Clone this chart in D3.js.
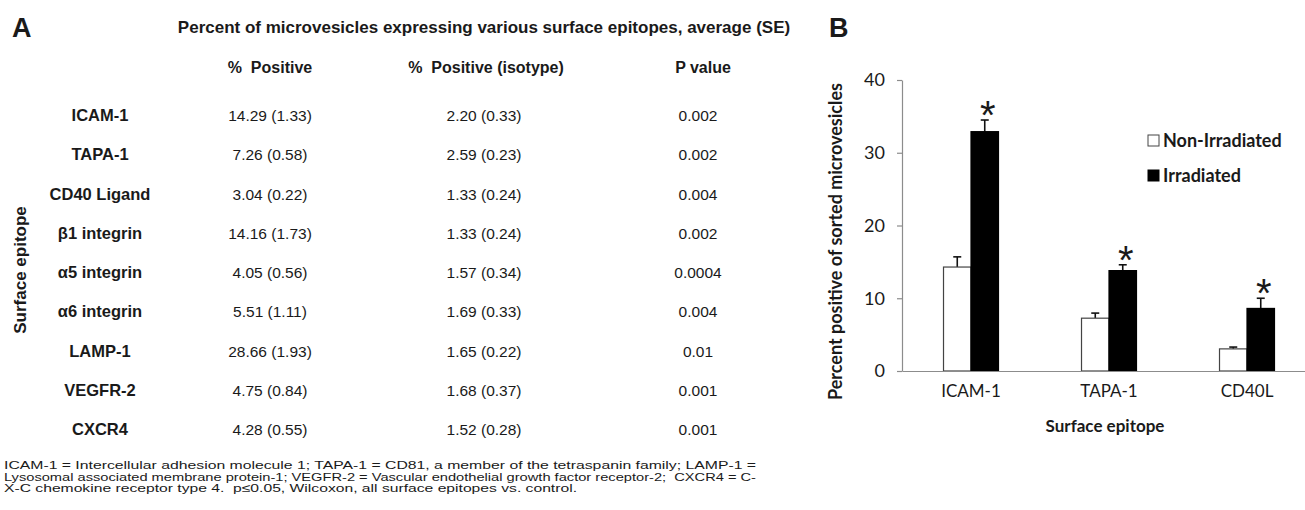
<!DOCTYPE html>
<html>
<head>
<meta charset="utf-8">
<script src="https://cdn.jsdelivr.net/npm/d3@7"></script>
<style>
  html, body { margin: 0; padding: 0; background: #fff; }
  svg { display: block; }
</style>
</head>
<body>
<div id="chart"></div>
<script>
// Panel A - table data
const epitopes = ['ICAM-1', 'TAPA-1', 'CD40 Ligand', 'β1 integrin', 'α5 integrin', 'α6 integrin', 'LAMP-1', 'VEGFR-2', 'CXCR4'];
const posMean = [14.29, 7.26, 3.04, 14.16, 4.05, 5.51, 28.66, 4.75, 4.28];
const posSE = [1.33, 0.58, 0.22, 1.73, 0.56, 1.11, 1.93, 0.84, 0.55];
const isoMean = [2.20, 2.59, 1.33, 1.33, 1.57, 1.69, 1.65, 1.68, 1.52];
const isoSE = [0.33, 0.23, 0.24, 0.24, 0.34, 0.33, 0.22, 0.37, 0.28];
const pValues = ['0.002', '0.002', '0.004', '0.002', '0.0004', '0.004', '0.01', '0.001', '0.001'];
const columnHeaders = ['%  Positive', '%  Positive (isotype)', 'P value'];

const footnote = [
    'ICAM-1 = Intercellular adhesion molecule 1; TAPA-1 = CD81, a member of the tetraspanin family; LAMP-1 =',
    'Lysosomal associated membrane protein-1; VEGFR-2 = Vascular endothelial growth factor receptor-2;  CXCR4 = C-',
    'X-C chemokine receptor type 4.  p\u22640.05, Wilcoxon, all surface epitopes vs. control.'
];
const footWidths = [752, 752, 573];

// Panel B - bar chart data
const groups = ['ICAM-1', 'TAPA-1', 'CD40L'];
const series = ['Non-Irradiated', 'Irradiated'];
const nonIrradiated = [14.29, 7.26, 3.04];
const nonIrradiatedSE = [1.4, 0.7, 0.25];
const irradiated = [32.9, 13.8, 8.6];
const irradiatedSE = [1.6, 0.8, 1.4];
const yTicks = [0, 10, 20, 30, 40];

const W = 1305, H = 510;
const svg = d3.select('#chart').append('svg')
    .attr('width', W)
    .attr('height', H);
svg.append('rect').attr('width', W).attr('height', H).attr('fill', '#fff');

const ink = '#1a1a1a';
const arial = 'Liberation Sans, Arial, sans-serif';
const lato = 'Lato, sans-serif';

// ---------- Panel A ----------
const A = svg.append('g').attr('font-family', arial).attr('fill', ink);

A.append('text').attr('x', 12).attr('y', 37)
    .attr('font-size', 27).attr('font-weight', 'bold').text('A');

A.append('text').attr('x', 484).attr('y', 33)
    .attr('text-anchor', 'middle').attr('font-size', 17).attr('font-weight', 'bold')
    .text('Percent of microvesicles expressing various surface epitopes, average (SE)');

const colX = d3.scalePoint().domain([0, 1, 2]).range([270, 698]);
const headerShift = [0, 2, 5];

A.selectAll('.hdr').data(columnHeaders).enter().append('text')
    .attr('class', 'hdr')
    .attr('x', (d, i) => colX(i) + headerShift[i])
    .attr('y', 73)
    .attr('text-anchor', 'middle')
    .attr('font-size', 16).attr('font-weight', 'bold')
    .style('white-space', 'pre')
    .text(d => d);

const rowY = d3.scalePoint().domain(epitopes).range([115, 429]);

const rows = A.selectAll('.row').data(epitopes).enter().append('g')
    .attr('class', 'row')
    .attr('transform', d => `translate(0,${rowY(d) + 6})`);

rows.append('text').attr('x', 100).attr('text-anchor', 'middle')
    .attr('font-size', 16.5).attr('font-weight', 'bold')
    .text(d => d);

rows.append('text').attr('x', colX(0)).attr('text-anchor', 'middle')
    .attr('font-size', 15.5)
    .text((d, i) => `${posMean[i].toFixed(2)} (${posSE[i].toFixed(2)})`);

rows.append('text').attr('x', colX(1)).attr('text-anchor', 'middle')
    .attr('font-size', 15.5)
    .text((d, i) => `${isoMean[i].toFixed(2)} (${isoSE[i].toFixed(2)})`);

rows.append('text').attr('x', colX(2)).attr('text-anchor', 'middle')
    .attr('font-size', 15.5)
    .text((d, i) => pValues[i]);

// rotated row axis title
A.append('text')
    .attr('transform', `translate(26,${rowY('α5 integrin') - 2}) rotate(-90)`)
    .attr('text-anchor', 'middle')
    .attr('font-size', 17).attr('font-weight', 'bold')
    .text('Surface epitope');

// footnote
A.append('g').attr('font-size', 11.5)
    .selectAll('text').data(footnote).enter().append('text')
    .attr('x', 4)
    .attr('y', (d, i) => 469 + i * 11.5)
    .attr('textLength', (d, i) => footWidths[i])
    .attr('lengthAdjust', 'spacingAndGlyphs')
    .style('white-space', 'pre')
    .text(d => d);

// ---------- Panel B ----------
const B = svg.append('g').attr('font-family', lato).attr('fill', ink);

B.append('text').attr('x', 829).attr('y', 37)
    .attr('font-family', arial)
    .attr('font-size', 27).attr('font-weight', 'bold').text('B');

const y = d3.scaleLinear().domain([0, 40]).range([371, 80]);
const x0 = d3.scaleBand().domain(groups).range([902, 1316]).padding(0);
const x1 = d3.scaleBand().domain(series).range([0, x0.bandwidth()])
    .paddingInner(0).paddingOuter(1.51);

const barData = groups.map((g, i) => [
    { group: g, key: series[0], value: nonIrradiated[i], se: nonIrradiatedSE[i] },
    { group: g, key: series[1], value: irradiated[i], se: irradiatedSE[i] }
]);

const gGroups = B.selectAll('.grp').data(barData).enter().append('g')
    .attr('class', 'grp')
    .attr('transform', d => `translate(${x0(d[0].group)},0)`);

// error bars (upper whisker only)
const err = gGroups.selectAll('.err').data(d => d).enter().append('g')
    .attr('class', 'err')
    .attr('stroke', '#111').attr('stroke-width', 1.6);
err.append('line')
    .attr('x1', d => x1(d.key) + x1.bandwidth() / 2)
    .attr('x2', d => x1(d.key) + x1.bandwidth() / 2)
    .attr('y1', d => y(d.value))
    .attr('y2', d => y(d.value + d.se));
err.append('line')
    .attr('x1', d => x1(d.key) + x1.bandwidth() / 2 - 4)
    .attr('x2', d => x1(d.key) + x1.bandwidth() / 2 + 4)
    .attr('y1', d => y(d.value + d.se))
    .attr('y2', d => y(d.value + d.se));

gGroups.selectAll('.bar').data(d => d).enter().append('rect')
    .attr('class', 'bar')
    .attr('x', d => x1(d.key))
    .attr('width', x1.bandwidth())
    .attr('y', d => y(d.value))
    .attr('height', d => y(0) - y(d.value))
    .attr('fill', d => d.key === series[0] ? '#fff' : '#000')
    .attr('stroke', d => d.key === series[0] ? '#444' : '#000')
    .attr('stroke-width', 1.2);

// significance asterisks over irradiated bars
gGroups.append('text')
    .attr('x', d => x1(series[1]) + x1.bandwidth() / 2 + 3)
    .attr('y', d => y(d[1].value + d[1].se) + 9)
    .attr('text-anchor', 'middle')
    .attr('font-family', arial)
    .attr('font-size', 40)
    .text('*');

// axes
const yAxis = B.append('g')
    .attr('transform', 'translate(902,0)')
    .call(d3.axisLeft(y).tickValues(yTicks).tickSize(5).tickSizeOuter(0).tickPadding(12));
yAxis.select('.domain').attr('stroke', '#8c8c8c').attr('stroke-width', 1.2);
yAxis.selectAll('.tick line').attr('stroke', '#8c8c8c').attr('stroke-width', 1.2);
yAxis.selectAll('.tick text').attr('font-family', lato).attr('font-size', 18).attr('fill', ink);

const xAxis = B.append('g')
    .attr('transform', 'translate(0,371)')
    .call(d3.axisBottom(x0).tickSize(0).tickSizeOuter(0).tickPadding(14));
xAxis.select('.domain').attr('stroke', '#8c8c8c').attr('stroke-width', 1.2);
xAxis.selectAll('.tick text').attr('font-family', lato).attr('font-size', 17).attr('fill', ink);

B.append('text')
    .attr('x', x0('TAPA-1') + x0.bandwidth() / 2 - 4)
    .attr('y', 432)
    .attr('text-anchor', 'middle')
    .attr('font-size', 17).attr('font-weight', 'bold')
    .text('Surface epitope');

B.append('text')
    .attr('transform', `translate(842,${(y(0) + y(40)) / 2 + 16}) rotate(-90)`)
    .attr('text-anchor', 'middle')
    .attr('font-size', 18).attr('font-weight', 'bold')
    .text('Percent positive of sorted microvesicles');

// legend
const legend = B.selectAll('.leg').data(series).enter().append('g')
    .attr('class', 'leg')
    .attr('transform', (d, i) => `translate(1148,${135 + i * 35})`);
legend.append('rect')
    .attr('width', 11).attr('height', 11)
    .attr('fill', (d, i) => i === 0 ? '#fff' : '#000')
    .attr('stroke', (d, i) => i === 0 ? '#444' : '#000')
    .attr('stroke-width', 1);
legend.append('text')
    .attr('x', 15).attr('y', 12)
    .attr('font-size', 18).attr('font-weight', 'bold')
    .text(d => d);
</script>
</body>
</html>
